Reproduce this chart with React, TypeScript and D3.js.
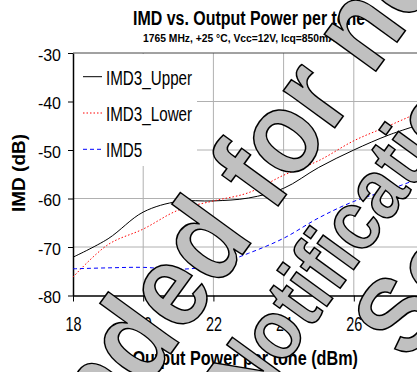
import React, { useEffect, useRef } from "react";
import * as d3 from "d3";

// values
const powerOut = [18, 19, 20, 21, 22, 23, 24, 25, 26, 27, 28];
const imd3Upper = [-72.1, -68.3, -62.8, -60.6, -60.5, -59.9, -57.9, -53.6, -50.0, -46.9, -44.5];
const imd3Lower = [-76.2, -69.5, -66.3, -62.4, -60.5, -58.8, -55.2, -52.2, -48.1, -45.0, -41.8];
const imd5 = [-74.5, -74.3, -74.2, -74.6, -73.8, -71.3, -68.2, -64.0, -60.6, -58.2, -55.5];
const xTicks = [18, 20, 22, 24, 26];
const yTicks = [-80, -70, -60, -50, -40, -30];
const seriesNames = ["IMD3_Upper", "IMD3_Lower", "IMD5"];
const watermarkLines = ["Not Recommended for new designs", "Notification", "See PCN"];

const FONT = "'Liberation Sans', Arial, sans-serif";

const App = () => {
  const ref = useRef<SVGSVGElement>(null);

  useEffect(() => {
    const svg = d3.select(ref.current);
    svg.selectAll("*").remove();

    const x = d3.scaleLinear().domain([18, 28]).range([73, 424]);
    const y = d3.scaleLinear().domain([-80, -30]).range([295.5, 53]);

    // clip for the plot area
    svg
      .append("defs")
      .append("clipPath")
      .attr("id", "plot")
      .append("rect")
      .attr("x", x(18))
      .attr("y", y(-30))
      .attr("width", x(28) - x(18))
      .attr("height", y(-80) - y(-30));

    // grid
    const grid = svg.append("g");
    grid
      .selectAll("line.h")
      .data(yTicks.filter((d) => d > -80 && d < -30))
      .enter()
      .append("line")
      .attr("x1", x(18))
      .attr("x2", x(28))
      .attr("y1", (d) => y(d))
      .attr("y2", (d) => y(d))
      .attr("stroke", "#b0b0b0")
      .attr("stroke-width", 1);
    grid
      .selectAll("line.v")
      .data(xTicks.filter((d) => d > 18))
      .enter()
      .append("line")
      .attr("x1", (d) => x(d))
      .attr("x2", (d) => x(d))
      .attr("y1", y(-30))
      .attr("y2", y(-80))
      .attr("stroke", "#b0b0b0")
      .attr("stroke-width", 1);
    // top frame
    grid
      .append("line")
      .attr("x1", x(18))
      .attr("x2", x(28))
      .attr("y1", y(-30))
      .attr("y2", y(-30))
      .attr("stroke", "#444")
      .attr("stroke-width", 1);

    // legend background hides the grid behind it
    svg
      .append("rect")
      .attr("x", x(18) + 1)
      .attr("y", y(-30) + 1)
      .attr("width", 123)
      .attr("height", 112)
      .attr("fill", "#fff");

    // axes
    const yAxis = svg
      .append("g")
      .attr("transform", `translate(${x(18)},0)`)
      .call(
        d3
          .axisLeft(y)
          .tickValues(yTicks)
          .tickSize(5)
          .tickSizeOuter(0)
          .tickPadding(7)
          .tickFormat((d) => String(d))
      );
    yAxis.select(".domain").attr("stroke", "#000").attr("stroke-width", 1.5);
    yAxis.selectAll(".tick line").attr("stroke", "#000");
    yAxis
      .selectAll(".tick text")
      .attr("font-family", FONT)
      .attr("font-size", 16)
      .attr("fill", "#000")
      .attr("dy", "0.45em");

    const xAxis = svg
      .append("g")
      .attr("transform", `translate(0,${y(-80)})`)
      .call(
        d3
          .axisBottom(x)
          .tickValues(xTicks)
          .tickSize(6)
          .tickSizeOuter(0)
          .tickFormat((d) => String(d))
      );
    xAxis.select(".domain").attr("stroke", "#000").attr("stroke-width", 1.5);
    xAxis.selectAll(".tick line").attr("stroke", "#000");
    xAxis
      .selectAll(".tick text")
      .attr("font-family", FONT)
      .attr("font-size", 20)
      .attr("fill", "#000")
      .attr("y", 0)
      .attr("dy", 0)
      .attr("transform", "translate(0,35) scale(0.72,1)");

    // series
    const series = [
      { name: seriesNames[0], values: imd3Upper, color: "#000", dash: null },
      { name: seriesNames[1], values: imd3Lower, color: "#ff0000", dash: "1.5,2" },
      { name: seriesNames[2], values: imd5, color: "#0000ff", dash: "4,3" },
    ];
    const line = d3
      .line<number>()
      .x((d, i) => x(powerOut[i]))
      .y((d) => y(d))
      .curve(d3.curveCatmullRom.alpha(0.5));

    const plot = svg.append("g").attr("clip-path", "url(#plot)");
    series.forEach((s) => {
      plot
        .append("path")
        .attr("d", line(s.values))
        .attr("fill", "none")
        .attr("stroke", s.color)
        .attr("stroke-width", 1)
        .attr("stroke-dasharray", s.dash);
    });

    // legend
    const legend = svg.append("g");
    series.forEach((s, i) => {
      const ly = 76.7 + i * 36.3;
      legend
        .append("line")
        .attr("x1", 83)
        .attr("x2", 102)
        .attr("y1", ly)
        .attr("y2", ly)
        .attr("stroke", s.color)
        .attr("stroke-width", 1)
        .attr("stroke-dasharray", s.dash);
      legend
        .append("text")
        .attr("transform", `translate(106,${ly + 8}) scale(0.76,1)`)
        .attr("font-family", FONT)
        .attr("font-size", 20)
        .text(s.name);
    });

    // titles
    svg
      .append("text")
      .attr("transform", "translate(133,25) scale(0.76,1)")
      .attr("font-family", FONT)
      .attr("font-weight", "bold")
      .attr("font-size", 21)
      .text("IMD vs. Output Power per tone");
    svg
      .append("text")
      .attr("transform", "translate(143,41.7) scale(0.89,1)")
      .attr("font-family", FONT)
      .attr("font-weight", "bold")
      .attr("font-size", 11.6)
      .text("1765 MHz, +25 °C, Vcc=12V, Icq=850mA");
    svg
      .append("text")
      .attr("transform", "translate(25,173) rotate(-90)")
      .attr("text-anchor", "middle")
      .attr("font-family", FONT)
      .attr("font-weight", "bold")
      .attr("font-size", 19)
      .text("IMD (dB)");
    svg
      .append("text")
      .attr("transform", "translate(132.5,365) scale(0.77,1)")
      .attr("font-family", FONT)
      .attr("font-weight", "bold")
      .attr("font-size", 21)
      .text("Output Power per tone (dBm)");

    // watermark: condensed bold text, rotated
    const wmPos = [
      { x: -999, y: 346, size: 120 },
      { x: -185, y: 444.6, size: 85 },
      { x: -53, y: 544, size: 110 },
    ];
    watermarkLines.forEach((t, i) => {
      svg
        .append("text")
        .attr(
          "transform",
          `rotate(-54) translate(${wmPos[i].x},${wmPos[i].y}) scale(0.875,1)`
        )
        .attr("font-family", FONT)
        .attr("font-weight", "bold")
        .attr("font-size", wmPos[i].size)
        .attr("fill", "#c0c0c0")
        .attr("stroke", "#000")
        .attr("stroke-width", 1.6)
        .text(t);
    });
  }, []);

  return (
    <svg
      ref={ref}
      width={417}
      height={372}
      style={{ position: "absolute", left: 0, top: 0, background: "#fff" }}
    />
  );
};

export default App;
